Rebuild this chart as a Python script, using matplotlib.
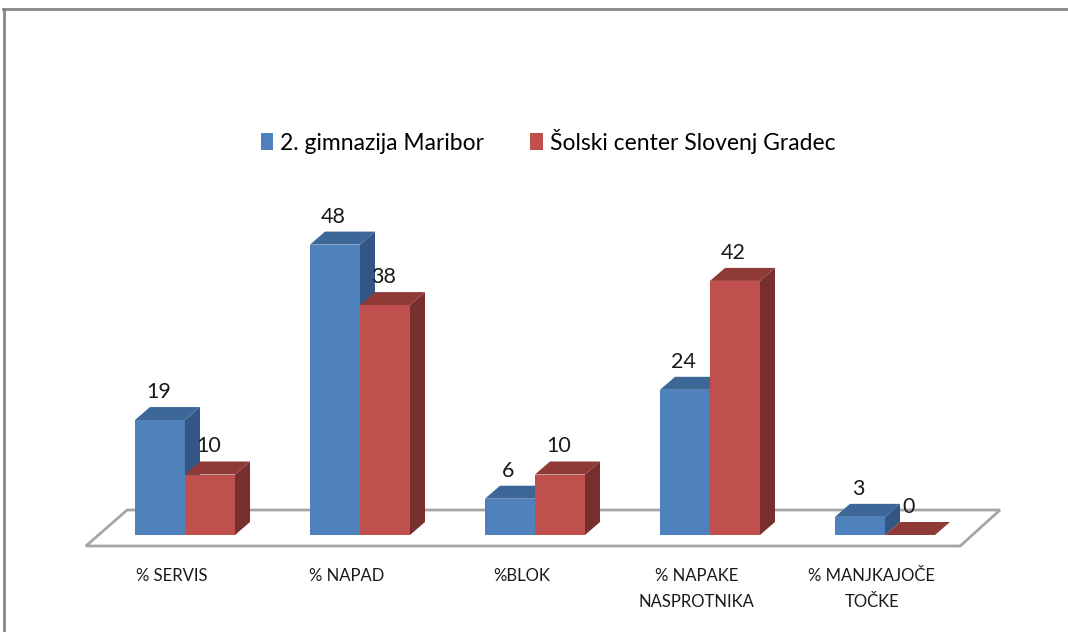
import matplotlib
matplotlib.use('Agg')
import matplotlib.pyplot as plt
from matplotlib.patches import Polygon, Patch
from matplotlib.lines import Line2D
import numpy as np

plt.rcParams['font.family'] = ['Lato', 'DejaVu Sans']

categories = ['% SERVIS', '% NAPAD', '%BLOK', '% NAPAKE\nNASPROTNIKA', '% MANJKAJOČE\nTOČKE']
series_names = ['2. gimnazija Maribor', 'Šolski center Slovenj Gradec']
maribor = [19, 48, 6, 24, 3]
slovenj_gradec = [10, 38, 10, 42, 0]

# colours: front, top, side
blue = ('#4F81BD', '#3D6797', '#345684')
red = ('#C0504D', '#8F3A37', '#78302E')

W, H = 1068, 632
fig = plt.figure(figsize=(W / 100, H / 100), dpi=100)
ax = fig.add_axes([0, 0, 1, 1])

# pixel layout -> data units
cat_px = 175.0       # px per category
val_px = 6.05        # px per value unit
x0_px, base_px = 185, 535   # centre of first category, baseline (from top)
ax.set_xlim(-x0_px / cat_px, (W - x0_px) / cat_px)
ax.set_ylim(-(H - base_px) / val_px, base_px / val_px)
ax.axis('off')

bw = 50 / cat_px
dx = 15 / cat_px
dy = 13 / val_px

# floor
floor = Polygon([(-0.566, -11 / val_px), (4.43, -11 / val_px),
                 (4.657, 25 / val_px), (-0.331, 25 / val_px)],
                closed=True, facecolor='white', edgecolor='#A6A6A6', lw=2, zorder=1)
ax.add_patch(floor)


def bar3d(x, h, cols, z):
    side = Polygon([(x + bw, 0), (x + bw + dx, dy), (x + bw + dx, h + dy), (x + bw, h)],
                   closed=True, facecolor=cols[2], edgecolor='none', zorder=z)
    top = Polygon([(x, h), (x + dx, h + dy), (x + bw + dx, h + dy), (x + bw, h)],
                  closed=True, facecolor=cols[1], edgecolor='none', zorder=z)
    ax.add_patch(side)
    ax.add_patch(top)
    ax.bar(x, h, width=bw, align='edge', color=cols[0], zorder=z)
    ax.text(x + bw / 2 - 0.01, h + dy + 15 / val_px, str(h), ha='center', va='center',
            fontsize=15.5, color='#1a1a1a', zorder=10)


idx = np.arange(len(categories))
for i in idx:
    bar3d(i - bw, maribor[i], blue, 2 + 2 * i)
    bar3d(i, slovenj_gradec[i], red, 3 + 2 * i)
    ax.text(i - 0.075, -33 / val_px, categories[i], ha='center', va='top',
            fontsize=12, color='#1a1a1a', linespacing=1.75)

handles = [Patch(facecolor=blue[0]), Patch(facecolor=red[0])]
fig.legend(handles, series_names, loc='center', bbox_to_anchor=(548 / W, 1 - 141 / H),
           ncol=2, frameon=False, fontsize=16.5, handlelength=0.55, handleheight=0.75,
           handletextpad=0.3, columnspacing=2.0)

# chart frame (top and left only)
fig.add_artist(Line2D([3 / W, 1], [1 - 9 / H, 1 - 9 / H], color='#868686', lw=2,
                      transform=fig.transFigure))
fig.add_artist(Line2D([4 / W, 4 / W], [0, 1 - 9 / H], color='#868686', lw=2,
                      transform=fig.transFigure))

fig.savefig('out.png', dpi=100)
